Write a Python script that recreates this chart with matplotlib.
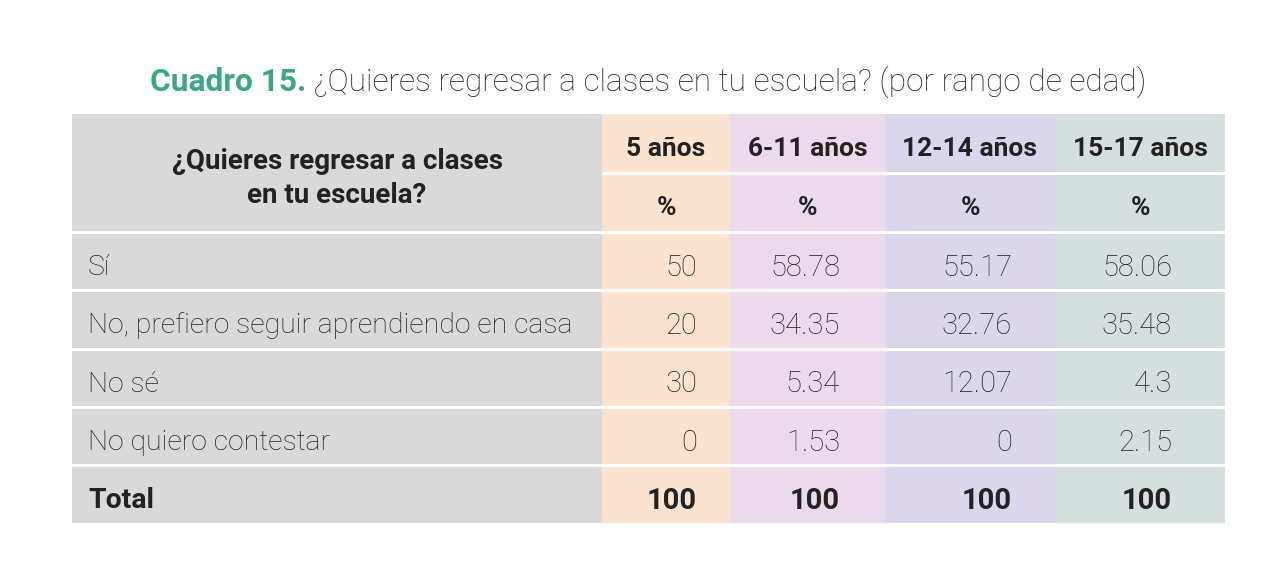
import matplotlib.pyplot as plt
from matplotlib.patches import Rectangle

# Datos del cuadro
title_bold = "Cuadro 15."
title_rest = " ¿Quieres regresar a clases en tu escuela? (por rango de edad)"
row_header = "¿Quieres regresar a clases\nen tu escuela?"
age_groups = ["5 años", "6-11 años", "12-14 años", "15-17 años"]
answers = ["Sí", "No, prefiero seguir aprendiendo en casa", "No sé", "No quiero contestar"]
pct_5 = ["50", "20", "30", "0"]
pct_6_11 = ["58.78", "34.35", "5.34", "1.53"]
pct_12_14 = ["55.17", "32.76", "12.07", "0"]
pct_15_17 = ["58.06", "35.48", "4.3", "2.15"]
totals = ["100", "100", "100", "100"]

columns = [pct_5, pct_6_11, pct_12_14, pct_15_17]
col_colors = ["#fbe3d0", "#ebdaec", "#dcd6ec", "#d5dfdf"]
label_color = "#d9d9d9"
text_color = "#222222"
green = "#3aa68a"

FONT = "Roboto"

fig = plt.figure(figsize=(12.8, 5.78), dpi=100)
ax = fig.add_axes([0, 0, 1, 1])
ax.set_xlim(0, 1280)
ax.set_ylim(578, 0)
ax.axis("off")

# column edges (pixels)
x_edges = [72, 602, 730, 885, 1055, 1225]
num_right = [697, 840, 1012, 1172]
head_top, head_mid, head_bot = 114, 173, 231
row_h = 58.3
gap = 3

# header background
ax.add_patch(Rectangle((x_edges[0], head_top), x_edges[1] - x_edges[0], head_bot - head_top,
                       color=label_color, lw=0))
ax.text((x_edges[0] + x_edges[1]) / 2, (head_top + head_bot) / 2 + 6, row_header,
        ha="center", va="center", fontsize=20, fontweight="bold", family=FONT,
        color=text_color, linespacing=1.35)
for j, g in enumerate(age_groups):
    x0, x1 = x_edges[j + 1], x_edges[j + 2]
    ax.add_patch(Rectangle((x0, head_top), x1 - x0, head_mid - head_top - gap / 2,
                           color=col_colors[j], lw=0))
    ax.add_patch(Rectangle((x0, head_mid + gap / 2), x1 - x0, head_bot - head_mid - gap / 2,
                           color=col_colors[j], lw=0))
    ax.text((x0 + x1) / 2, (head_top + head_mid) / 2 + 6, g, ha="center", va="center",
            fontsize=19, fontweight="bold", family=FONT, color=text_color)
    ax.text((x0 + x1) / 2, (head_mid + head_bot) / 2 + 6, "%", ha="center", va="center",
            fontsize=19, fontweight="bold", family=FONT, color=text_color)

# body rows
labels = answers + ["Total"]
for i, lab in enumerate(labels):
    y0 = head_bot + gap + i * row_h
    y1 = y0 + row_h - gap
    yc = (y0 + y1) / 2 + 6
    bold = lab == "Total"
    w = "bold" if bold else "light"
    ax.add_patch(Rectangle((x_edges[0], y0), x_edges[1] - x_edges[0], y1 - y0,
                           color=label_color, lw=0))
    ax.text(x_edges[0] + 16, yc, lab, ha="left", va="center", fontsize=20.4,
            fontweight=w, family=FONT, color=text_color)
    for j in range(4):
        x0, x1 = x_edges[j + 1], x_edges[j + 2]
        ax.add_patch(Rectangle((x0, y0), x1 - x0, y1 - y0, color=col_colors[j], lw=0))
        val = totals[j] if bold else columns[j][i]
        ax.text(num_right[j], yc, val, ha="right", va="center", fontsize=21,
                fontweight=w, family=FONT, color=text_color)

# title, centred on the figure
t1 = ax.text(0, 82, title_bold, ha="left", va="center", fontsize=22.8, fontweight="bold",
             family=FONT, color=green)
t2 = ax.text(0, 82, title_rest, ha="left", va="center", fontsize=22.8, fontweight="light",
             family=FONT, color=text_color)
fig.canvas.draw()
r = fig.canvas.get_renderer()
w1 = t1.get_window_extent(r).width
w2 = t2.get_window_extent(r).width
start = 648 - (w1 + w2) / 2
t1.set_x(start)
t2.set_x(start + w1)

fig.savefig("out.png", dpi=100, facecolor="white")
